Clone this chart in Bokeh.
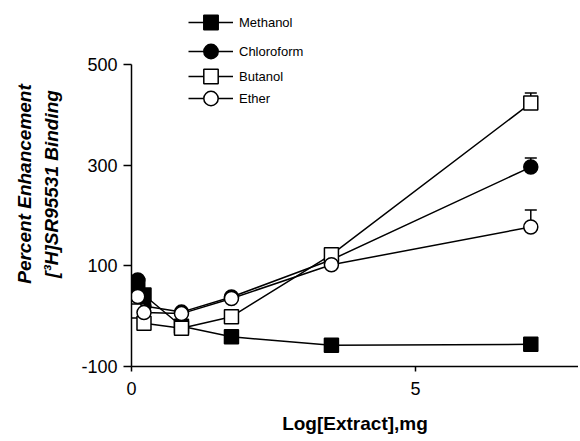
from bokeh.plotting import figure
from bokeh.models import (Range1d, FixedTicker, Legend, LegendItem,
                          ColumnDataSource, Whisker, TeeHead)
from bokeh.embed import file_html
from bokeh.resources import INLINE

# ---- data ----
dose = [0.11, 0.22, 0.88, 1.76, 3.52, 7.03]
methanol = [62, 42, -20, -41, -58, -56]
chloroform = [72, 20, 8, 38, 112, 296]
butanol = [10, -14, -24, -1, 122, 423]
ether = [39, 7, 5, 35, 102, 177]

# upper error (only visible at the highest dose)
err_x = [7.03, 7.03, 7.03]
err_y = [423, 296, 177]
err_up = [20, 18, 34]

y_ticks = [-100, 100, 300, 500]
y_tick_labels = {-100: "-100", 100: "100", 300: "300", 500: "500"}
x_ticks = [0, 5]

FONT = "Liberation Sans"

p = figure(width=578, height=436, output_backend="svg", toolbar_location=None,
           x_range=Range1d(0, 7.87), y_range=Range1d(-100, 624.8),
           min_border_left=131, min_border_right=0, min_border_top=1,
           min_border_bottom=69)
p.outline_line_color = None
p.grid.visible = False
p.background_fill_color = "white"

# axes
p.yaxis.bounds = (-100, 500)
p.yaxis.ticker = FixedTicker(ticks=y_ticks)
p.yaxis.major_label_overrides = y_tick_labels
p.xaxis.ticker = FixedTicker(ticks=x_ticks)
for ax in (p.xaxis, p.yaxis):
    ax.minor_tick_line_color = None
    ax.major_tick_in = 0
    ax.axis_line_color = "black"
    ax.axis_line_width = 1.5
    ax.major_tick_line_width = 1.5
    ax.major_label_text_font = FONT
    ax.major_label_text_font_size = "18px"
    ax.major_label_text_color = "black"
p.yaxis.major_tick_out = 8
p.yaxis.major_label_standoff = 6
p.xaxis.major_tick_out = 5
p.xaxis.major_label_standoff = 10

p.xaxis.axis_label = "Log[Extract],mg"
p.xaxis.axis_label_text_font = FONT
p.xaxis.axis_label_text_font_size = "19px"
p.xaxis.axis_label_text_font_style = "bold"
p.xaxis.axis_label_text_color = "black"
p.xaxis.axis_label_standoff = 15

p.yaxis.axis_label = "Percent Enhancement\n[\u00b3H]SR95531 Binding"
p.yaxis.axis_label_text_font = FONT
p.yaxis.axis_label_text_font_size = "19px"
p.yaxis.axis_label_text_font_style = "bold italic"
p.yaxis.axis_label_text_color = "black"
p.yaxis.axis_label_text_line_height = 1.3
p.yaxis.axis_label_standoff = 16

series = [
    ("Methanol", methanol, "square", "black"),
    ("Chloroform", chloroform, "circle", "black"),
    ("Butanol", butanol, "square", "white"),
    ("Ether", ether, "circle", "white"),
]

items = []
for name, vals, marker, fill in series:
    src = ColumnDataSource(dict(x=dose, y=vals))
    r1 = p.line("x", "y", source=src, line_color="black", line_width=1.5)
    r2 = p.scatter("x", "y", source=src, marker=marker, size=14,
                   fill_color=fill, line_color="black", line_width=1.5)
    items.append(LegendItem(label=name, renderers=[r1, r2]))

# error bars (upper only)
esrc = ColumnDataSource(dict(x=err_x, lo=[v + 7 for v in err_y],
                             hi=[v + e for v, e in zip(err_y, err_up)]))
p.add_layout(Whisker(source=esrc, base="x", lower="lo", upper="hi",
                     line_color="black", line_width=1.5,
                     upper_head=TeeHead(size=12, line_width=1.5, line_color="black"),
                     lower_head=None))

# legend: one box per row (uneven spacing as in the reference)
bottoms = [326, 297, 272, 250]
for it, b in zip(items, bottoms):
    lg = Legend(items=[it], location=(57, b), glyph_width=45, glyph_height=36,
                label_standoff=6, padding=0, margin=0, spacing=0,
                border_line_color=None, background_fill_alpha=0,
                label_text_font=FONT,
                label_text_font_size="13px", label_text_color="black")
    p.add_layout(lg, "center")

open("out.html", "w").write(file_html(p, INLINE))
